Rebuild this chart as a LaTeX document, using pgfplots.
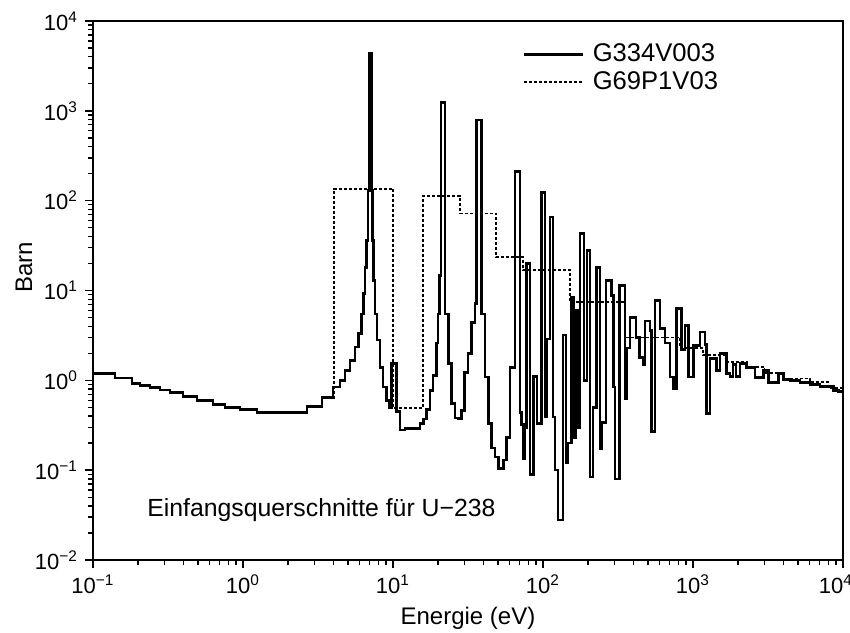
\documentclass[border=0pt]{standalone}
\usepackage{fontspec}
\setmainfont{Liberation Sans}
\usepackage{pgfplots}
\pgfplotsset{compat=1.18}
\begin{document}
\begin{tikzpicture}
\useasboundingbox (-46.5pt,-36pt) rectangle (378.5pt,280pt);
\begin{axis}[
  at={(0,0)}, anchor=south west,
  width=375pt, height=269.5pt, scale only axis,
  xmode=log, ymode=log,
  xmin=0.1, xmax=10000, ymin=0.01, ymax=10000,
  axis line style={line width=1.4pt},
  tick align=outside, xtick pos=bottom, ytick pos=left,
  major tick length=4pt, minor tick length=2.5pt,
  every tick/.style={black, line width=0.7pt},
  xtick={0.1,1,10,100,1000,10000},
  xticklabels={10\textsuperscript{−1},10\textsuperscript{0},10\textsuperscript{1},10\textsuperscript{2},10\textsuperscript{3},10\textsuperscript{4}\hspace*{7pt}},
  ytick={0.01,0.1,1,10,100,1000,10000},
  yticklabels={10\textsuperscript{−2},10\textsuperscript{−1},10\textsuperscript{0},10\textsuperscript{1},10\textsuperscript{2},10\textsuperscript{3},10\textsuperscript{4}},
  tick label style={font=\fontsize{11}{13}\selectfont},
  xlabel={Energie (eV)}, ylabel={Barn},
  label style={font=\fontsize{12}{14}\selectfont},
  xlabel style={at={(axis description cs:0.5,0)}, anchor=center, yshift=-29pt},
  ylabel style={at={(axis description cs:-0.092,0.543)}, anchor=center},
  legend style={at={(axis description cs:0.573,0.965)}, anchor=north west, draw=none, fill=none,
    inner sep=0pt, row sep=0pt,
    nodes={inner sep=1pt, text height=9.5pt, text depth=2.5pt, font=\fontsize{12.8}{14}\selectfont},
    /tikz/every odd column/.append style={column sep=3pt}},
  legend cell align=left,
  legend image code/.code={\draw[#1] (0pt,0pt) -- (29.5pt,0pt);},
]
\addlegendimage{black, line width=1.3pt}
\addlegendentry{G334V003}
\addlegendimage{black, line width=0.9pt, dash pattern=on 1.5pt off 1pt}
\addlegendentry{G69P1V03}

% G69P1V03 (coarse groups)
\addplot[const plot, black, line width=0.9pt, dash pattern=on 1.5pt off 1pt, forget plot] coordinates {
(3.98,0.64) (4.04,136) (10.05,0.49) (15.9,113) (27.9,72) (48.7,23.5) (74,17)
(151,7.4) (352,3.0) (820,2.3) (1170,1.9) (1700,1.6) (2300,1.4) (3000,1.2)
(4000,1.05) (6000,0.95) (8000,0.82) (10000,0.76)
};

% G334V003 (fine groups)
\addplot[const plot, black, line width=1.3pt, forget plot] coordinates {
(0.100,1.19) (0.140,1.06) (0.182,0.92) (0.206,0.88) (0.240,0.83) (0.280,0.78)
(0.326,0.73) (0.398,0.66) (0.494,0.60) (0.631,0.54) (0.759,0.50) (0.955,0.47)
(1.24,0.44) (2.67,0.51) (3.36,0.64) (3.98,0.84) (4.43,1.0) (4.79,1.29)
(5.17,1.67) (5.58,2.34) (5.87,3.3) (6.18,5.5) (6.34,9.2) (6.51,18) (6.68,36)
(6.81,129) (6.94,4400) (7.16,129) (7.30,36) (7.39,13) (7.59,5.5) (7.80,2.8)
(8.17,1.4) (8.57,0.84) (9.06,0.60) (9.4,0.5) (9.79,1.54) (10.6,0.45) (11.1,0.28)
(12.0,0.29) (13.6,0.29) (15.1,0.33) (15.9,0.37) (16.7,0.47) (17.6,0.77)
(18.5,1.14) (19.5,2.6) (19.9,5.5) (20.4,14.7) (20.9,1240) (22.2,5.5) (23.4,1.54)
(24.6,0.55) (25.9,0.38) (27.3,0.37) (28.7,0.46) (30.1,1.23) (31.7,2.0) (33.4,4.4)
(35.2,7.2) (36.1,790) (39.0,5.5) (41.0,1.09) (43.2,0.33) (45.4,0.176) (47.9,0.14)
(50.3,0.105) (54.3,0.13) (57.2,0.23) (60.3,1.4) (65.0,212) (70.3,0.44) (72.2,0.32)
(74.0,0.135) (75.9,0.3) (77.9,20) (81.8,0.09) (86.1,1.1) (91.0,0.33) (97.9,123)
(102.9,0.39) (105.5,2.9) (111.1,66) (116.9,0.39) (119.9,0.1) (125.9,0.028)
(135.9,3.2) (142.3,0.12) (146.8,0.2) (155.0,8.4) (160.6,0.23) (165.6,6) (170.8,0.3)
(176.5,43) (187.7,1.0) (196.6,27.8) (205.8,0.084) (215.4,0.5) (228,18) (239.9,0.175)
(247.5,0.34) (263,12.9) (287,8.8) (295,0.84) (302,0.08) (322.6,11.4) (352,0.63)
(361,2.3) (380,5.0) (417,3.0) (438.5,1.8) (466,1.5) (478.6,4.6) (516.8,3.6)
(530.5,0.27) (558,7.7) (602.6,3.8) (650.6,2.6) (702.7,1.09) (739,0.81) (778.7,6.3)
(840.8,2.2) (884.7,4.1) (930.5,1.09) (1005,2.45) (1113,3.45) (1202,2.5) (1226,0.43)
(1298,1.75) (1439,1.29) (1514,2.0) (1678,1.2) (1765,1.1) (1848,1.5) (1935,1.1)
(2057,1.54) (2280,1.4) (2590,1.08) (2943,1.28) (3177,0.95) (3704,1.2) (3999,1.02)
(4434,1.0) (5168,0.95) (6026,0.9) (7026,0.85) (8616,0.77) (9305,0.75) (10000,0.74)
};

\node[anchor=west, font=\fontsize{12.4}{14}\selectfont, inner sep=0pt] at (axis cs:0.229,0.036) {Einfangsquerschnitte für U−238};
\end{axis}
\end{tikzpicture}
\end{document}
